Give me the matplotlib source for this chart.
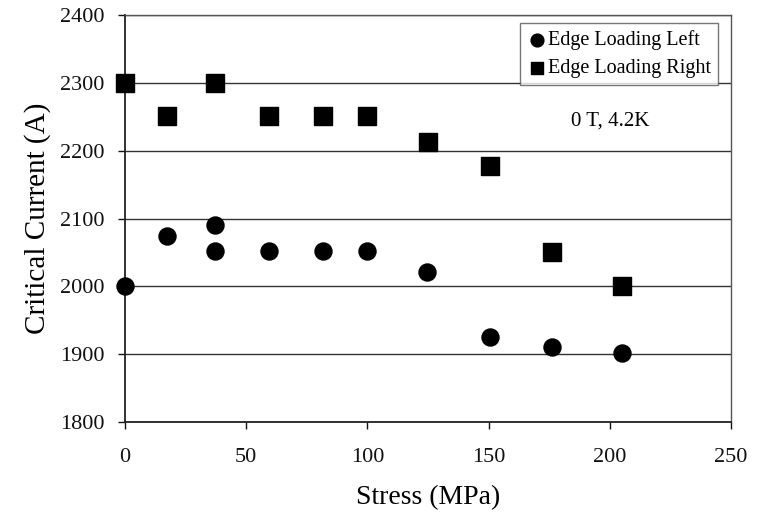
import matplotlib
matplotlib.use("Agg")
import matplotlib.pyplot as plt

# Edge loading measurements at 0 T, 4.2 K
left_stress = [0, 17.5, 37, 37, 59.5, 81.5, 100, 124.5, 150.5, 176, 205]
left_current = [2000, 2074, 2090, 2052, 2052, 2052, 2052, 2021, 1926, 1911, 1902]

right_stress = [0, 17.5, 37, 59.5, 81.5, 100, 125, 150.5, 176, 205]
right_current = [2300, 2251, 2300, 2251, 2251, 2251, 2213, 2178, 2051, 2001]

x_ticks = [0, 50, 100, 150, 200, 250]
y_ticks = [1800, 1900, 2000, 2100, 2200, 2300, 2400]

plt.rcParams["font.family"] = ["Liberation Serif", "DejaVu Serif"]

fig = plt.figure(figsize=(7.59, 5.14), dpi=100)
ax = fig.add_axes([0.1647, 0.179, 0.7986, 0.7918])

ax.set_xlim(0, 250)
ax.set_ylim(1800, 2400)
ax.set_xticks(x_ticks)
ax.set_yticks(y_ticks)
ax.yaxis.grid(True, color="#333333", linewidth=1.0)
ax.set_axisbelow(True)

ax.scatter(left_stress, left_current, marker="o", s=150, color="black",
           label="Edge Loading Left", zorder=3, clip_on=False)
ax.scatter(right_stress, right_current, marker="s", s=155, color="black",
           label="Edge Loading Right", zorder=3, clip_on=False)

ax.text(200, 2243, "0 T, 4.2K", fontsize=15, ha="center", va="center")

for side in ("left", "bottom"):
    ax.spines[side].set_color("#222222")
    ax.spines[side].set_linewidth(1.3)
for side in ("top", "right"):
    ax.spines[side].set_color("#555555")
    ax.spines[side].set_linewidth(1.0)

ax.tick_params(axis="both", direction="out", length=5, width=1.0,
               labelsize=16, colors="#111111")
ax.tick_params(axis="x", pad=14)
ax.tick_params(axis="y", pad=10)

ax.set_xlabel("Stress (MPa)", fontsize=20, labelpad=13)
ax.set_ylabel("Critical Current (A)", fontsize=21, labelpad=6)

leg = ax.legend(loc="upper right", bbox_to_anchor=(0.978, 0.980),
                fontsize=14.5, frameon=True, fancybox=False,
                edgecolor="#555555", handletextpad=0.05, handlelength=1.0,
                borderpad=0.35, labelspacing=0.45, markerscale=0.75,
                borderaxespad=0.0)
leg.get_frame().set_linewidth(1.0)

fig.savefig("out.png", dpi=100)
